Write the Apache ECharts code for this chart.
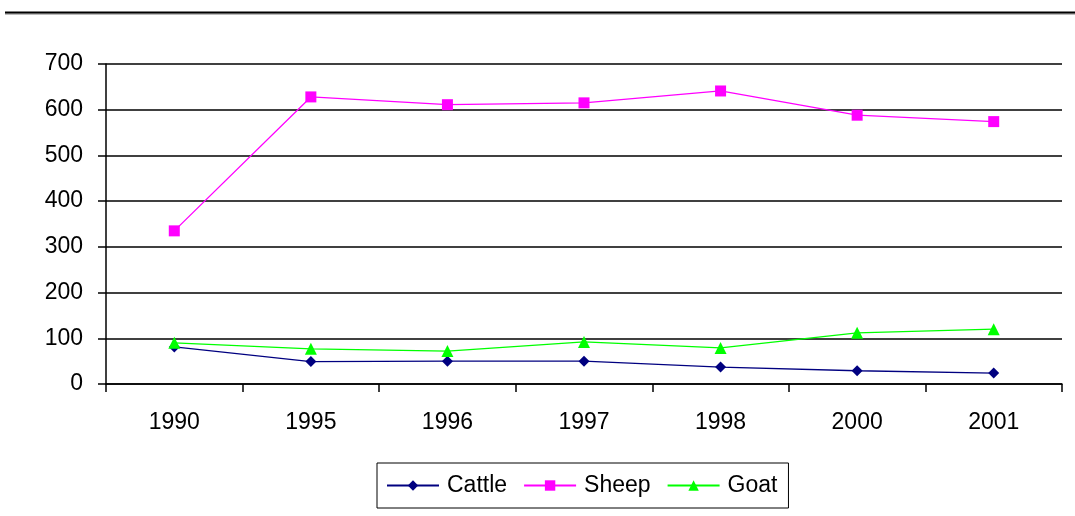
<!DOCTYPE html>
<html>
<head>
<meta charset="utf-8">
<style>
  html, body { margin: 0; padding: 0; background: #fff; }
  #chart { width: 1075px; height: 516px; }
</style>
<script src="https://cdn.jsdelivr.net/npm/echarts@6/dist/echarts.min.js"></script>
</head>
<body>
<div id="chart"></div>
<script>
// Livestock numbers by year
const years = ['1990', '1995', '1996', '1997', '1998', '2000', '2001'];
const cattle = [81, 49, 50, 50, 37, 29, 24];
const sheep = [335, 628, 611, 615, 641, 588, 574];
const goat = [90, 77, 72, 92, 79, 112, 120];

const chart = echarts.init(document.getElementById('chart'));
const font = 'Liberation Sans, Arial, sans-serif';

function lineSeries(name, data, color, symbol, size) {
  return {
    name: name,
    type: 'line',
    data: data,
    symbol: symbol,
    symbolSize: size,
    lineStyle: { color: color, width: 1.3 },
    itemStyle: { color: color },
    animation: false
  };
}

chart.setOption({
  animation: false,
  textStyle: { fontFamily: font },
  graphic: [
    { type: 'line', shape: { x1: 5, y1: 14, x2: 1075, y2: 14 }, style: { stroke: '#bbb', lineWidth: 2 } },
    { type: 'line', shape: { x1: 5, y1: 12.5, x2: 1075, y2: 12.5 }, style: { stroke: '#000', lineWidth: 2 } }
  ],
  grid: { left: 106, right: 13, top: 64, bottom: 132 },
  legend: {
    top: 463,
    left: 377,
    itemWidth: 52,
    itemHeight: 13,
    itemGap: 16,
    borderColor: '#000',
    borderWidth: 1,
    padding: [11, 11, 11, 9],
    textStyle: { fontFamily: font, fontSize: 23, color: '#000', padding: [0, 0, 0, 3] },
    data: ['Cattle', 'Sheep', 'Goat']
  },
  xAxis: {
    type: 'category',
    data: years,
    boundaryGap: true,
    axisLine: { lineStyle: { color: '#000', width: 1.5 } },
    axisTick: { show: true, length: 8, lineStyle: { color: '#000', width: 1.5 } },
    axisLabel: { color: '#000', fontSize: 23, margin: 27, fontFamily: font }
  },
  yAxis: {
    type: 'value',
    min: 0,
    max: 700,
    interval: 100,
    axisLine: { show: true, lineStyle: { color: '#000', width: 1.5 } },
    axisTick: { show: true, length: 8, lineStyle: { color: '#000', width: 1.5 } },
    axisLabel: { color: '#000', fontSize: 23, margin: 23, fontFamily: font },
    splitLine: { lineStyle: { color: '#000', width: 1.5 } }
  },
  series: [
    lineSeries('Cattle', cattle, '#000080', 'diamond', 11),
    lineSeries('Sheep', sheep, '#ff00ff', 'rect', 11),
    lineSeries('Goat', goat, '#00ff00', 'triangle', 12)
  ]
});
</script>
</body>
</html>
